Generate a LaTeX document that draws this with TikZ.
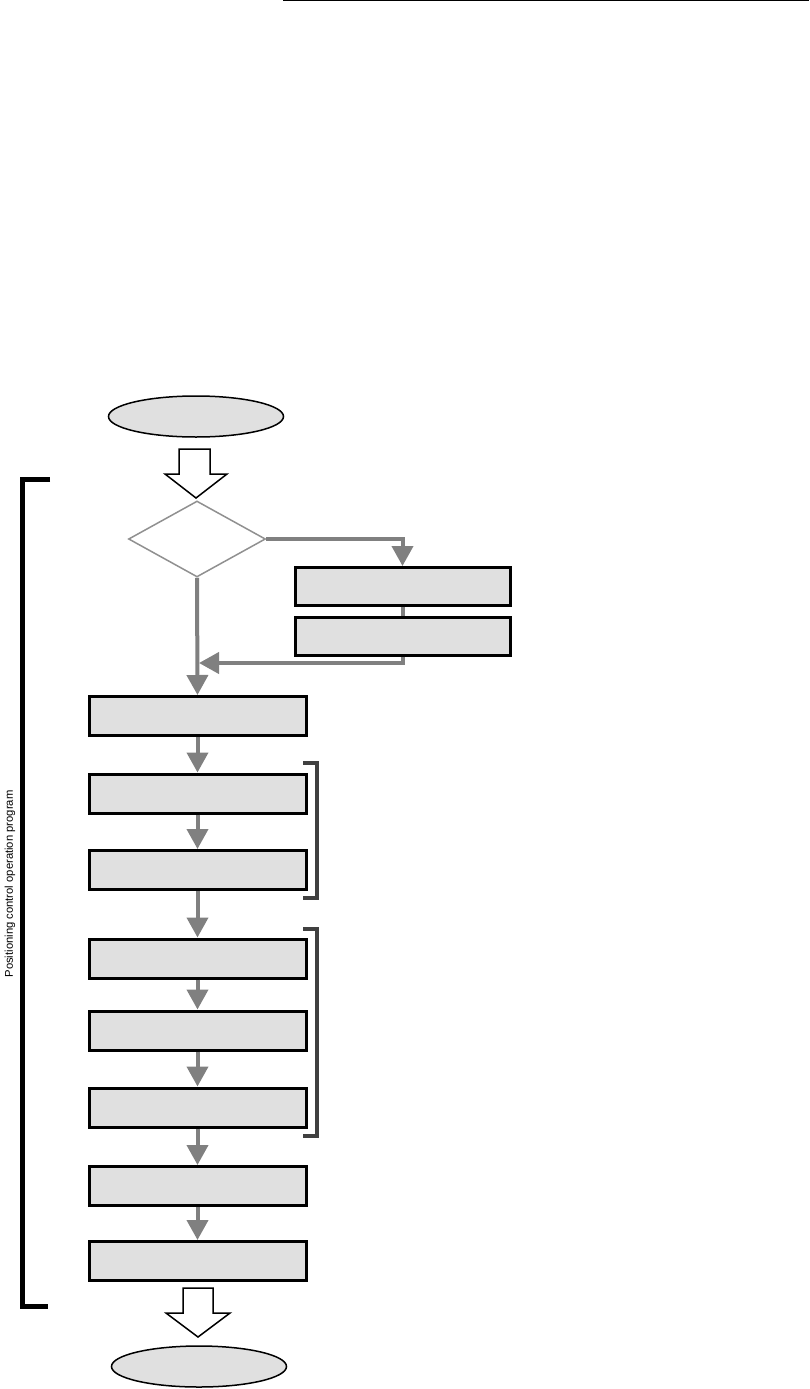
\documentclass[tikz,border=0pt]{standalone}
\usepackage{fontspec}
\setmainfont{Liberation Sans}
\usetikzlibrary{arrows.meta,shapes.geometric}
\definecolor{boxfill}{HTML}{E0E0E0}
\definecolor{flowgray}{HTML}{808080}
\definecolor{diagray}{HTML}{909090}
\definecolor{brk}{HTML}{404040}
\begin{document}
\begin{tikzpicture}[x=1pt,y=-1pt,
  stepbox/.style={draw=black,line width=3pt,fill=boxfill,minimum width=217pt,minimum height=39pt,inner sep=0pt},
  sidebox/.style={draw=black,line width=3pt,fill=boxfill,minimum width=215pt,minimum height=38pt,inner sep=0pt},
  term/.style={ellipse,draw=black,line width=1.5pt,fill=boxfill,minimum width=175pt,minimum height=41pt,inner sep=0pt},
  decide/.style={diamond,draw=diagray,line width=1.5pt,fill=white,minimum width=137pt,minimum height=76pt,inner sep=0pt},
  flow/.style={draw=flowgray,line width=4pt,-{Triangle[length=20pt,width=21pt]}},
  flowline/.style={draw=flowgray,line width=4pt},
  hollow/.style={draw=black,line width=1.5pt,fill=white,line join=miter},
  rbracket/.style={draw=brk,line width=4pt,line join=miter},
  lbracket/.style={draw=black,line width=5pt,line join=miter}]
\useasboundingbox (0,0) rectangle (809,1389);
% top rule
\coordinate (r1) at (283,0.75);
\coordinate (r2) at (809,0.75);
\draw[line width=1.5pt] (r1) -- (r2);
% start
\node[term] (start) at (196,416.5) {};
% hollow arrow top
\coordinate (ha) at (196,498);
\draw[hollow] (ha) -- ++(-31,-24) -- ++(14,0) -- ++(0,-25) -- ++(31,0) -- ++(0,25) -- ++(17,0) -- cycle;
% decision
\node[decide] (dec) at (197,539) {};
% side boxes
\node[sidebox] (sa) at (402.5,586.5) {};
\node[sidebox] (sb) at (402.5,636.5) {};
% main boxes
\node[stepbox] (b1) at (197.5,716) {};
\node[stepbox] (b2) at (197.5,793.5) {};
\node[stepbox] (b3) at (197.5,870) {};
\node[stepbox] (b4) at (197.5,958.5) {};
\node[stepbox] (b5) at (197.5,1030.5) {};
\node[stepbox] (b6) at (197.5,1107.5) {};
\node[stepbox] (b7) at (197.5,1186) {};
\node[stepbox] (b8) at (197.5,1261) {};
% end
\node[term] (stop) at (199,1366.5) {};
% hollow arrow bottom
\coordinate (hb) at (198,1337);
\draw[hollow] (hb) -- ++(-32,-24) -- ++(17,0) -- ++(0,-25) -- ++(30,0) -- ++(0,25) -- ++(17,0) -- cycle;
% branch
\coordinate (bt) at (402.5,539);
\draw[flow] (dec.east) -- (bt) -- (sa.north);
\draw[flowline] (sa.south) -- (sb.north);
\coordinate (bc) at (402.5,663);
\coordinate (merge) at (199,663);
\draw[flow] (sb.south) -- (bc) -- (merge);
% main flow
\draw[flow] (dec.south) -- (b1.north);
\draw[flow] (b1) -- (b2);
\draw[flow] (b2) -- (b3);
\draw[flow] (b3) -- (b4);
\draw[flow] (b4) -- (b5);
\draw[flow] (b5) -- (b6);
\draw[flow] (b6) -- (b7);
\draw[flow] (b7) -- (b8);
% right brackets
\coordinate (k1a) at (303,763);
\coordinate (k1b) at (303,898);
\draw[rbracket] (k1a) -- (317,763) -- (317,898) -- (k1b);
\coordinate (k2a) at (303,929);
\coordinate (k2b) at (303,1136);
\draw[rbracket] (k2a) -- (317,929) -- (317,1136) -- (k2b);
% left bracket
\coordinate (la) at (50,479);
\coordinate (lb) at (48,1306);
\draw[lbracket] (la) -- (22.5,479) -- (22.5,1306) -- (lb);
\node[rotate=90,font=\fontsize{11.25}{13}\selectfont,inner sep=0pt] (lbl) at (10,884) {Positioning control operation program};
\end{tikzpicture}
\end{document}
